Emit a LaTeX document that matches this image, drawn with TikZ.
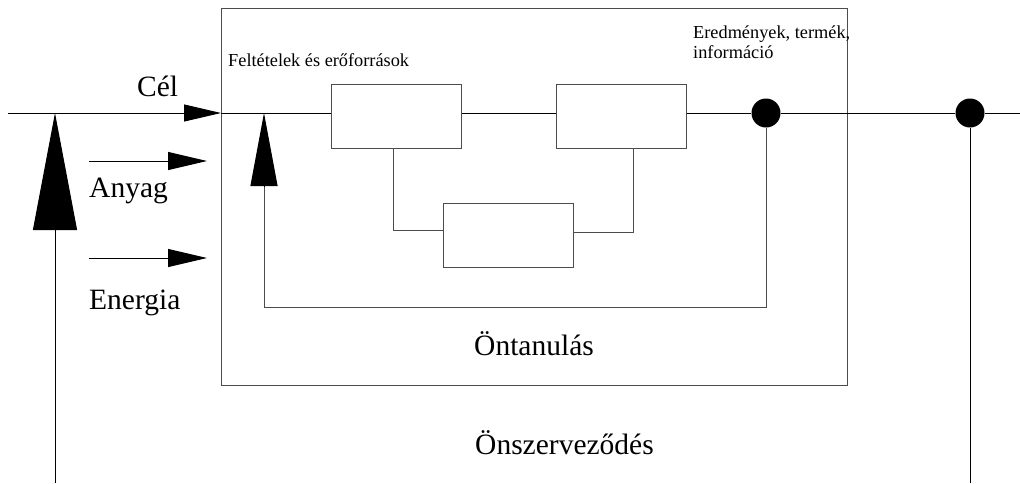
\documentclass[tikz,border=0pt]{standalone}
\usepackage{fontspec}
\setmainfont{Liberation Serif}
\usetikzlibrary{arrows.meta,calc}
\tikzset{
  blk/.style={draw=black!70, line width=1pt, rectangle, inner sep=0pt, minimum width=130pt, minimum height=64pt},
  outerbox/.style={draw=black!70, line width=1pt, rectangle, inner sep=0pt, minimum width=626pt, minimum height=377pt},
  dotnode/.style={circle, fill=black, inner sep=0pt, minimum size=29pt},
  wire/.style={draw=black, line width=1pt},
  gwire/.style={draw=black!70, line width=1pt},
  bigtxt/.style={inner sep=0pt, anchor=base west, font=\fontsize{29.5}{35}\selectfont},
  smalltxt/.style={inner sep=0pt, anchor=base west, font=\fontsize{18.3}{20}\selectfont, align=left},
  headS/.style={-{Triangle[length=37pt,width=17pt]}},
  headM/.style={-{Triangle[length=39pt,width=18pt]}},
  headF/.style={-{Triangle[length=73pt,width=27pt]}},
  headB/.style={-{Triangle[length=117pt,width=44pt]}},
}
\begin{document}
\begin{tikzpicture}[x=1pt,y=-1pt]
\useasboundingbox (0,0) rectangle (1020,483);
% outer box
\node[outerbox] (outer) at (534,196.5) {};
% blocks
\node[blk] (b1) at (396.5,116) {};
\node[blk] (b2) at (621,116) {};
\node[blk] (b3) at (508,235) {};
% dots
\node[dotnode] (d1) at (766,113) {};
\node[dotnode] (d2) at (970,113) {};
% coordinates
\coordinate (L) at (8,113);
\coordinate (R) at (1020,113);
\coordinate (in) at (221,113);
\coordinate (fbtip) at (264,113);
\coordinate (fbl) at (264,307);
\coordinate (fbr) at (766,307);
\coordinate (fbh) at (264,186);
\coordinate (bigtip) at (55,113);
\coordinate (bigbot) at (55,483);
\coordinate (d2bot) at (970,483);
\coordinate (a1s) at (89,161);
\coordinate (a1e) at (207,161);
\coordinate (a2s) at (89,258);
\coordinate (a2e) at (207,258);
% main line
\draw[wire, headS] (L) -- (in);
\draw[wire] (in) -- (in -| b1.west);
\draw[wire] (in -| b1.east) -- (in -| b2.west);
\draw[wire] (in -| b2.east) -- (d1) -- (d2) -- (R);
% internal connectors
\draw[gwire] ([xshift=-3.5pt]b1.south) |- ([yshift=5pt]b3.west);
\draw[gwire] ([yshift=3pt]b3.east) -| ([xshift=12pt]b2.south);
% feedback
\draw[gwire] (d1) -- (fbr) -- (fbl) -- (fbh);
\draw[wire, headF] (fbh) -- (fbtip);
% big arrow
\draw[wire, headB] (bigbot) -- (bigtip);
\draw[wire] (d2) -- (d2bot);
% input arrows
\draw[wire, headM] (a1s) -- (a1e);
\draw[wire, headM] (a2s) -- (a2e);
% labels
\node[bigtxt] (tcel) at (137,96) {Cél};
\node[bigtxt] (tany) at (89,197) {Anyag};
\node[bigtxt] (tene) at (89,309) {Energia};
\node[bigtxt] (tont) at (474,355) {Öntanulás};
\node[bigtxt] (tonsz) at (475,454) {Önszerveződés};
\node[smalltxt] (tfel) at (228,66) {Feltételek és erőforrások};
\node[smalltxt] (tere) at (693,58) {Eredmények, termék,\\információ};
\end{tikzpicture}
\end{document}
